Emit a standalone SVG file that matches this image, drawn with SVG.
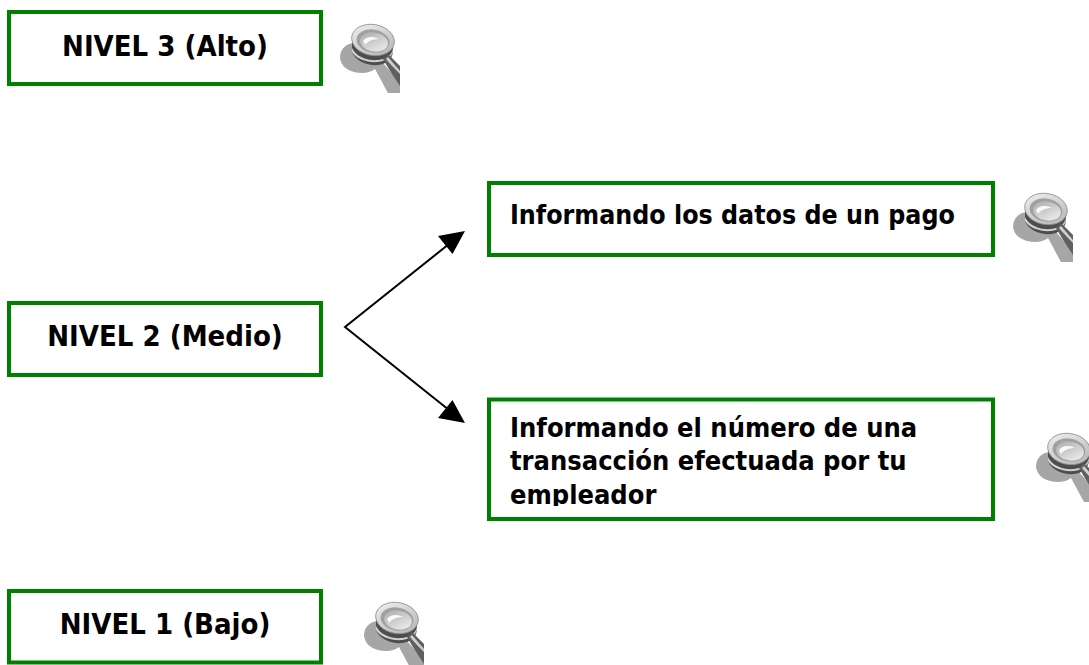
<svg xmlns="http://www.w3.org/2000/svg" xmlns:xlink="http://www.w3.org/1999/xlink" width="1089" height="665" viewBox="0 0 1089 665">
<style>
.box{fill:#fff;stroke:#008000;stroke-width:4}
.t{font-family:"DejaVu Sans",sans-serif;font-stretch:condensed;font-weight:700;font-size:26.500px;fill:#000}
.m{font-size:27px}
.c{text-anchor:middle;font-size:29px}
.conn{stroke:#000;stroke-width:2;fill:none}
</style>
<defs>
<linearGradient id="rim" x1="0" y1="0" x2="1" y2="1"><stop offset="0" stop-color="#f2f2f2"/><stop offset="1" stop-color="#b0b0b0"/></linearGradient>
<linearGradient id="glass" x1="0" y1="0" x2="1" y2="1"><stop offset="0" stop-color="#a8a8a8"/><stop offset="1" stop-color="#f4f4f4"/></linearGradient>
<clipPath id="clipT"><rect x="491" y="401" width="500" height="105"/></clipPath>
<symbol id="lens" overflow="visible">
<path d="M0 34C0 25 6 20 13 19L22 30L42 38L60 58L60 69L48 69C43 60 39 52 35 45C30 49 22 50 14 48C6 46 1 41 0 34Z" fill="#a6a6a6"/>
<path d="M12 17L12 28C15 37 28 42 38 41C46 40 52 36 53 28L53 17Z" fill="#4d4d4d"/>
<path d="M12 24C16 33 28 37 38 36C46 35 51 32 53 25L53 28C51 34 46 37 38 38C28 39 16 35 12 28Z" fill="#d0d0d0"/>
<path d="M43 35L48 30L60 42L60 62C54 53 48 44 43 35Z" fill="#5f5f5f"/>
<path d="M46 35L48 33L60 47L60 50C55 45 50 40 46 35Z" fill="#cfcfcf"/>
<ellipse cx="33" cy="16" rx="21.500" ry="15.500" transform="rotate(10 33 16)" fill="url(#rim)" stroke="#8c8c8c" stroke-width="0.800"/>
<ellipse cx="33" cy="17" rx="16.500" ry="11.500" transform="rotate(10 33 17)" fill="#a0a0a0"/>
<ellipse cx="34" cy="18" rx="14" ry="9.500" transform="rotate(10 34 18)" fill="url(#glass)"/>
<path d="M23 17C26 12 34 12 39 15C33 15 28 17 25 21Z" fill="#fafafa"/>
</symbol>
</defs>
<rect width="1089" height="665" fill="#fff"/>
<g id="connectors">
<polyline class="conn" points="454,240 345,327 454,414"/>
<polygon points="465,231 452.500,254 438,236"/>
<polygon points="465,423 438,418 452.500,400"/>
</g>
<g id="nivel3"><rect class="box" x="9" y="12" width="312" height="72"/><text class="t c" x="165" y="55.500">NIVEL 3 (Alto)</text></g>
<g id="nivel2"><rect class="box" x="9" y="303" width="312" height="72"/><text class="t c" x="165" y="346">NIVEL 2 (Medio)</text></g>
<g id="nivel1"><rect class="box" x="9" y="591" width="312" height="71.500"/><text class="t c" x="165" y="634">NIVEL 1 (Bajo)</text></g>
<g id="pago"><rect class="box" x="489" y="183" width="504" height="72"/><text class="t" x="510" y="223.500">Informando los datos de un pago</text></g>
<g id="transaccion"><rect class="box" x="489" y="399.500" width="504" height="119.500"/><g clip-path="url(#clipT)"><text class="t m" x="510" y="437">Informando el número de una</text><text class="t m" x="510" y="470">transacción efectuada por tu</text><text class="t m" x="510" y="503.500">empleador</text></g></g>
<g id="icon-nivel3"><use xlink:href="#lens" href="#lens" x="340" y="24"/></g>
<g id="icon-pago"><use xlink:href="#lens" href="#lens" x="1013" y="193"/></g>
<g id="icon-transaccion"><use xlink:href="#lens" href="#lens" x="1036" y="433"/></g>
<g id="icon-nivel1"><use xlink:href="#lens" href="#lens" x="364" y="602"/></g>
</svg>
